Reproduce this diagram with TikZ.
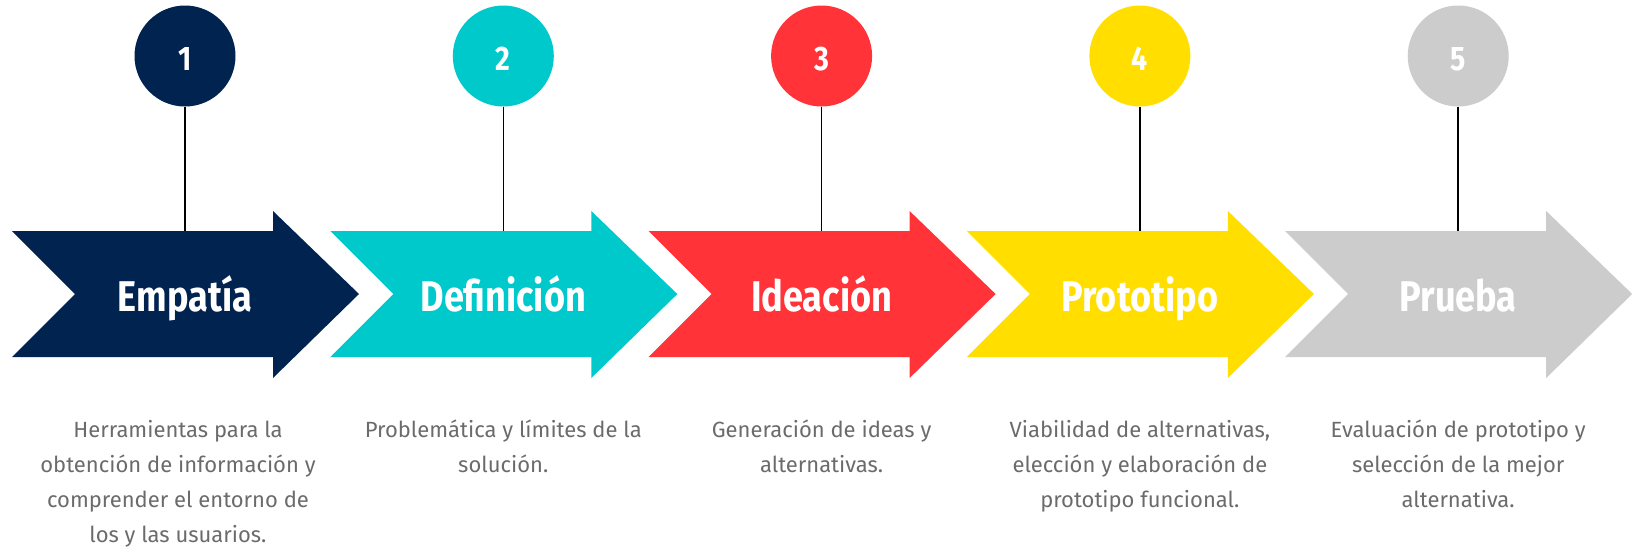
\documentclass[tikz,border=0pt]{standalone}
\usepackage{fontspec}
\setmainfont{Fira Sans}[FakeStretch=0.84]
\newfontfamily\descfont{Fira Sans}
\usepackage{tikz}
\usetikzlibrary{positioning}

\definecolor{empblue}{HTML}{012350}
\definecolor{defcyan}{HTML}{00C9CC}
\definecolor{idered}{HTML}{FF3338}
\definecolor{proyellow}{HTML}{FFDE00}
\definecolor{prugray}{HTML}{CCCCCC}
\definecolor{desctext}{HTML}{6B6B6B}

\begin{document}
\begin{tikzpicture}[x=1pt,y=-1pt,
  stepnum/.style={circle,minimum size=101pt,inner sep=0pt,text=white,
    text height=29pt,text depth=0pt,font=\fontsize{34}{34}\selectfont\bfseries},
  steptitle/.style={anchor=base,text=white,font=\fontsize{43}{43}\selectfont\bfseries},
  stepdesc/.style={anchor=north,align=center,inner sep=0pt,text=desctext,
    font=\descfont\fontsize{22}{35}\selectfont},
  stem/.style={draw=black,line width=1.6pt}]
\useasboundingbox (0,0) rectangle (1638,550);

% Draw arrows
\fill[empblue] (12,231) -- (273,231) -- (273,211) -- (359,294) -- (273,378) -- (273,357) -- (12,357) -- (75,294) -- cycle;
\fill[defcyan,xshift=318.3pt] (12,231) -- (273,231) -- (273,211) -- (359,294) -- (273,378) -- (273,357) -- (12,357) -- (75,294) -- cycle;
\fill[idered,xshift=636.6pt] (12,231) -- (273,231) -- (273,211) -- (359,294) -- (273,378) -- (273,357) -- (12,357) -- (75,294) -- cycle;
\fill[proyellow,xshift=954.9pt] (12,231) -- (273,231) -- (273,211) -- (359,294) -- (273,378) -- (273,357) -- (12,357) -- (75,294) -- cycle;
\fill[prugray,xshift=1273.2pt] (12,231) -- (273,231) -- (273,211) -- (359,294) -- (273,378) -- (273,357) -- (12,357) -- (75,294) -- cycle;

% Arrow tops
\coordinate (top1) at (185,231);
\coordinate (top2) at (503.3,231);
\coordinate (top3) at (821.6,231);
\coordinate (top4) at (1139.9,231);
\coordinate (top5) at (1458.2,231);

% Numbered circles
\node[stepnum,fill=empblue] (num1) at (185,56) {1};
\node[stepnum,fill=defcyan] (num2) at (503.3,56) {2};
\node[stepnum,fill=idered] (num3) at (821.6,56) {3};
\node[stepnum,fill=proyellow] (num4) at (1139.9,56) {4};
\node[stepnum,fill=prugray] (num5) at (1458.2,56) {5};

\draw[stem] (num1) -- (top1);
\draw[stem] (num2) -- (top2);
\draw[stem] (num3) -- (top3);
\draw[stem] (num4) -- (top4);
\draw[stem] (num5) -- (top5);

% Titles
\node[steptitle] (title1) at (185,311) {Empatía};
\node[steptitle] (title2) at (503.3,311) {Definición};
\node[steptitle] (title3) at (821.6,311) {Ideación};
\node[steptitle] (title4) at (1139.9,311) {Prototipo};
\node[steptitle] (title5) at (1458.2,311) {Prueba};

% Descriptions
\node[stepdesc] (desc1) at (178,420) {Herramientas para la\\obtención de información y\\comprender el entorno de\\los y las usuarios.};
\node[stepdesc] (desc2) at (503.3,420) {Problemática y límites de la\\solución.};
\node[stepdesc] (desc3) at (821.6,420) {Generación de ideas y\\alternativas.};
\node[stepdesc] (desc4) at (1139.9,420) {Viabilidad de alternativas,\\elección y elaboración de\\prototipo funcional.};
\node[stepdesc] (desc5) at (1458.2,420) {Evaluación de prototipo y\\selección de la mejor\\alternativa.};
\end{tikzpicture}
\end{document}
